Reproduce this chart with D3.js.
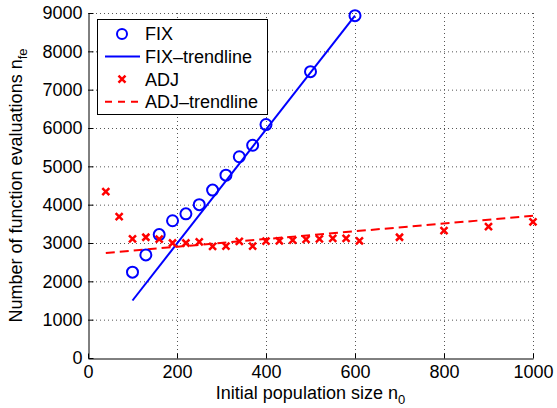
<!DOCTYPE html>
<html>
<head>
    <meta charset="utf-8">
    <title>Function evaluations</title>
    <style>
        body { margin: 0; background: #fff; }
        text { font-family: "Liberation Sans", Arial, sans-serif; }
    </style>
</head>
<body>
    <script src="https://cdnjs.cloudflare.com/ajax/libs/d3/7.9.0/d3.min.js"></script>
    <script>

        // data
        const fixX = [100, 130, 160, 190, 220, 250, 280, 310, 340, 370, 400, 500, 600];
        const fixY = [2240, 2690, 3220, 3580, 3760, 4000, 4380, 4770, 5250, 5550, 6090, 7470, 8930];

        const adjX = [40, 70, 100, 130, 160, 190, 220, 250, 280, 310, 340, 370, 400, 430, 460, 490, 520, 550, 580, 610, 700, 800, 900, 1000];
        const adjY = [4340, 3690, 3110, 3150, 3100, 3000, 3000, 3030, 2910, 2920, 3040, 2920, 3050, 3055, 3075, 3095, 3105, 3120, 3120, 3055, 3150, 3320, 3430, 3550];

        const fixTrendX = [100, 600];
        const fixTrendY = [1500, 8930];
        const adjTrendX = [40, 1000];
        const adjTrendY = [2740, 3710];

        const xTicks = [0, 200, 400, 600, 800, 1000];
        const yTicks = [0, 1000, 2000, 3000, 4000, 5000, 6000, 7000, 8000, 9000];

        const legendNames = ["FIX", "FIX\u2013trendline", "ADJ", "ADJ\u2013trendline"];

        const width = 557;
        const height = 408;
        const margin = {top: 13, right: 24, bottom: 50, left: 88};

        const blue = "#0000ff";
        const red = "#ff0000";
        const fontSize = 18;

        const svg = d3.select("body")
            .append("svg")
            .attr("width", width)
            .attr("height", height);

        const x = d3.scaleLinear()
            .domain([0, 1000])
            .range([margin.left, width - margin.right]);

        const y = d3.scaleLinear()
            .domain([0, 9000])
            .range([height - margin.bottom, margin.top]);

        // dotted grid
        const grid = svg.append("g")
            .attr("stroke", "#555")
            .attr("stroke-width", 1)
            .attr("stroke-dasharray", "1,3");

        grid.selectAll(".gx")
            .data(xTicks.slice(1))
            .enter()
            .append("line")
            .attr("x1", d => x(d) + 0.5)
            .attr("x2", d => x(d) + 0.5)
            .attr("y1", y(0))
            .attr("y2", y(9000));

        grid.selectAll(".gy")
            .data(yTicks.slice(1))
            .enter()
            .append("line")
            .attr("x1", x(0))
            .attr("x2", x(1000))
            .attr("y1", d => y(d) + 0.5)
            .attr("y2", d => y(d) + 0.5);

        // axes
        const xAxis = svg.append("g")
            .attr("transform", `translate(0,${y(0) + 0.5})`)
            .call(d3.axisBottom(x).tickValues(xTicks).tickFormat(d3.format("d"))
                .tickSizeInner(-5).tickSizeOuter(0).tickPadding(7));

        const yAxis = svg.append("g")
            .attr("transform", `translate(${x(0) + 0.5},0)`)
            .call(d3.axisLeft(y).tickValues(yTicks).tickFormat(d3.format("d"))
                .tickSizeInner(-5).tickSizeOuter(0).tickPadding(6));

        [xAxis, yAxis].forEach(function(ax){
            ax.select(".domain").attr("stroke", "#000");
            ax.selectAll(".tick line").attr("stroke", "#000");
            ax.selectAll("text")
                .attr("font-size", fontSize)
                .attr("font-family", "Liberation Sans, Arial, sans-serif")
                .attr("fill", "#000");
        });

        // trendlines
        const line = d3.line()
            .x(d => x(d[0]))
            .y(d => y(d[1]));

        svg.append("path")
            .datum(d3.zip(fixTrendX, fixTrendY))
            .attr("d", line)
            .attr("fill", "none")
            .attr("stroke", blue)
            .attr("stroke-width", 2);

        svg.append("path")
            .datum(d3.zip(adjTrendX, adjTrendY))
            .attr("d", line)
            .attr("fill", "none")
            .attr("stroke", red)
            .attr("stroke-width", 2)
            .attr("stroke-dasharray", "9,5");

        // FIX circles
        svg.selectAll(".fix")
            .data(d3.zip(fixX, fixY))
            .enter()
            .append("circle")
            .attr("cx", d => x(d[0]))
            .attr("cy", d => y(d[1]))
            .attr("r", 5.5)
            .attr("fill", "none")
            .attr("stroke", blue)
            .attr("stroke-width", 2);

        // ADJ crosses
        const cross = 3.5;
        function crossPath(cx, cy) {
            return `M${cx - cross},${cy - cross}L${cx + cross},${cy + cross}M${cx - cross},${cy + cross}L${cx + cross},${cy - cross}`;
        }

        svg.selectAll(".adj")
            .data(d3.zip(adjX, adjY))
            .enter()
            .append("path")
            .attr("d", d => crossPath(x(d[0]), y(d[1])))
            .attr("stroke", red)
            .attr("stroke-width", 2.5)
            .attr("fill", "none");

        // axis labels
        const xl = svg.append("text")
            .attr("x", (x(0) + x(1000)) / 2)
            .attr("y", 399)
            .attr("text-anchor", "middle")
            .attr("font-size", fontSize);
        xl.append("tspan").text("Initial population size n");
        xl.append("tspan").attr("dy", 5).attr("font-size", 13).text("0");

        const yl = svg.append("text")
            .attr("transform", `translate(22,${(y(0) + y(9000)) / 2}) rotate(-90)`)
            .attr("text-anchor", "middle")
            .attr("font-size", fontSize);
        yl.append("tspan").text("Number of function evaluations n");
        yl.append("tspan").attr("dy", 5).attr("font-size", 13).text("fe");

        // legend
        const lg = svg.append("g");
        lg.append("rect")
            .attr("x", 97.5)
            .attr("y", 19.5)
            .attr("width", 170)
            .attr("height", 95)
            .attr("fill", "#fff")
            .attr("stroke", "#000");

        const rowY = i => 34 + i * 22.6;
        const lx1 = 105, lx2 = 140, lmid = 122;

        lg.append("circle")
            .attr("cx", lmid).attr("cy", rowY(0)).attr("r", 5)
            .attr("fill", "none").attr("stroke", blue).attr("stroke-width", 2);
        lg.append("line")
            .attr("x1", lx1).attr("x2", lx2).attr("y1", rowY(1)).attr("y2", rowY(1))
            .attr("stroke", blue).attr("stroke-width", 2);
        lg.append("path")
            .attr("d", crossPath(lmid, rowY(2)))
            .attr("stroke", red).attr("stroke-width", 2.5);
        lg.append("line")
            .attr("x1", lx1).attr("x2", lx2).attr("y1", rowY(3)).attr("y2", rowY(3))
            .attr("stroke", red).attr("stroke-width", 2).attr("stroke-dasharray", "7,6");

        lg.selectAll(".lt")
            .data(legendNames)
            .enter()
            .append("text")
            .attr("x", 145)
            .attr("y", (d, i) => rowY(i))
            .attr("dy", "0.35em")
            .attr("font-size", fontSize)
            .text(d => d);

    </script>
</body>
</html>
